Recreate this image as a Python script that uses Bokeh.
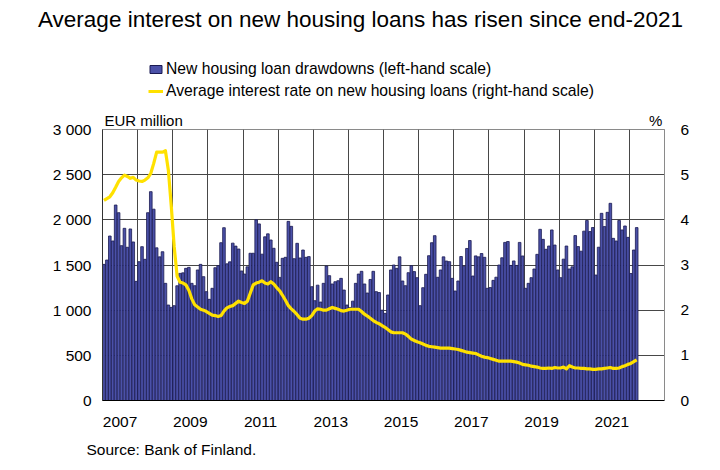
from bokeh.plotting import figure
from bokeh.layouts import column
from bokeh.models import (ColumnDataSource, Range1d, LinearAxis, FixedTicker,
                          Legend, LegendItem)
from bokeh.core.properties import value
from bokeh.embed import file_html
from bokeh.resources import INLINE

# ---------------- data (monthly, Jan 2007 - Mar 2022) ----------------
years = list(range(2007, 2023))

drawdowns_2007 = [1507, 1555, 1821, 1766, 2164, 2079, 1714, 1906, 1696, 1899, 1755, 1319]
drawdowns_2008 = [1537, 1703, 1563, 2079, 2312, 2118, 1690, 1590, 1647, 1297, 1057, 1031]
drawdowns_2009 = [1050, 1270, 1407, 1413, 1463, 1474, 1297, 1271, 1445, 1507, 1371, 1205]
drawdowns_2010 = [1120, 1242, 1470, 1493, 1747, 1913, 1513, 1535, 1742, 1709, 1677, 1434]
drawdowns_2011 = [1400, 1480, 1630, 1630, 2000, 1955, 1620, 1812, 1845, 1777, 1685, 1530]
drawdowns_2012 = [1363, 1574, 1585, 1983, 1928, 1570, 1740, 1578, 1666, 1585, 1593, 1260]
drawdowns_2013 = [1105, 1277, 1090, 1297, 1489, 1382, 1290, 1315, 1326, 1352, 1223, 1057]
drawdowns_2014 = [1030, 1100, 1297, 1400, 1430, 1290, 1190, 1340, 1430, 1205, 1195, 1000]
drawdowns_2015 = [965, 1168, 1445, 1500, 1463, 1590, 1323, 1271, 1415, 1493, 1427, 1360]
drawdowns_2016 = [1050, 1249, 1397, 1603, 1747, 1825, 1364, 1445, 1590, 1544, 1537, 1352]
drawdowns_2017 = [1212, 1323, 1594, 1487, 1683, 1771, 1378, 1601, 1590, 1627, 1585, 1242]
drawdowns_2018 = [1250, 1330, 1365, 1500, 1580, 1750, 1760, 1495, 1545, 1495, 1750, 1600]
drawdowns_2019 = [1242, 1297, 1360, 1456, 1618, 1895, 1784, 1674, 1710, 1888, 1721, 1445]
drawdowns_2020 = [1360, 1565, 1710, 1456, 1480, 1826, 1704, 1653, 1875, 1993, 1870, 1915]
drawdowns_2021 = [1389, 1697, 2072, 1925, 2083, 2183, 1795, 1766, 1993, 1888, 1932, 1806]
drawdowns_2022 = [1406, 1666, 1914]

rate_2007 = [4.43, 4.47, 4.51, 4.60, 4.72, 4.85, 4.93, 4.99, 4.96, 4.92, 4.94, 4.88]
rate_2008 = [4.86, 4.85, 4.88, 4.93, 5.03, 5.25, 5.50, 5.50, 5.50, 5.53, 5.10, 4.30]
rate_2009 = [3.40, 2.75, 2.62, 2.60, 2.56, 2.44, 2.25, 2.12, 2.07, 2.02, 2.00, 1.97]
rate_2010 = [1.93, 1.89, 1.88, 1.86, 1.88, 1.98, 2.05, 2.08, 2.10, 2.15, 2.20, 2.17]
rate_2011 = [2.15, 2.20, 2.38, 2.56, 2.60, 2.62, 2.65, 2.60, 2.58, 2.63, 2.58, 2.50]
rate_2012 = [2.43, 2.33, 2.22, 2.10, 2.03, 1.97, 1.90, 1.82, 1.80, 1.80, 1.82, 1.88]
rate_2013 = [1.98, 2.03, 2.02, 2.00, 2.00, 2.03, 2.06, 2.04, 2.02, 1.99, 1.98, 2.00]
rate_2014 = [2.02, 2.02, 2.02, 2.02, 1.97, 1.91, 1.87, 1.82, 1.77, 1.73, 1.70, 1.66]
rate_2015 = [1.62, 1.57, 1.52, 1.50, 1.50, 1.50, 1.50, 1.47, 1.42, 1.36, 1.33, 1.30]
rate_2016 = [1.28, 1.25, 1.22, 1.20, 1.19, 1.18, 1.17, 1.16, 1.16, 1.16, 1.16, 1.15]
rate_2017 = [1.14, 1.13, 1.11, 1.09, 1.07, 1.06, 1.05, 1.04, 1.01, 0.98, 0.96, 0.95]
rate_2018 = [0.93, 0.91, 0.89, 0.87, 0.87, 0.87, 0.87, 0.87, 0.86, 0.85, 0.83, 0.80]
rate_2019 = [0.79, 0.78, 0.76, 0.75, 0.74, 0.72, 0.71, 0.71, 0.72, 0.71, 0.73, 0.72]
rate_2020 = [0.72, 0.74, 0.70, 0.77, 0.74, 0.72, 0.72, 0.71, 0.71, 0.70, 0.70, 0.69]
rate_2021 = [0.69, 0.70, 0.70, 0.71, 0.72, 0.73, 0.71, 0.71, 0.72, 0.75, 0.77, 0.80]
rate_2022 = [0.82, 0.86, 0.90]

left_ticks = [0, 500, 1000, 1500, 2000, 2500, 3000]
left_labels = ["0", "500", "1 000", "1 500", "2 000", "2 500", "3 000"]
right_ticks = [0, 1, 2, 3, 4, 5, 6]
year_labels = ["2007", "2009", "2011", "2013", "2015", "2017", "2019", "2021"]

title_text = "Average interest on new housing loans has risen since end-2021"
legend_bar = "New housing loan drawdowns (left-hand scale)"
legend_line = "Average interest rate on new housing loans (right-hand scale)"
left_unit = "EUR million"
right_unit = "%"
source_text = "Source: Bank of Finland."

# ---------------- assemble ----------------
drawdowns = (drawdowns_2007 + drawdowns_2008 + drawdowns_2009 + drawdowns_2010 +
             drawdowns_2011 + drawdowns_2012 + drawdowns_2013 + drawdowns_2014 +
             drawdowns_2015 + drawdowns_2016 + drawdowns_2017 + drawdowns_2018 +
             drawdowns_2019 + drawdowns_2020 + drawdowns_2021 + drawdowns_2022)
rates = (rate_2007 + rate_2008 + rate_2009 + rate_2010 + rate_2011 + rate_2012 +
         rate_2013 + rate_2014 + rate_2015 + rate_2016 + rate_2017 + rate_2018 +
         rate_2019 + rate_2020 + rate_2021 + rate_2022)
xs = [2007 + (i + 0.5) / 12.0 for i in range(len(drawdowns))]
src = ColumnDataSource(dict(x=xs, loans=drawdowns, rate=rates))

FONT = "Liberation Sans"
BAR_FILL = "#4b51a8"
BAR_LINE = "#1a1a52"
YELLOW = "#ffe100"
GRID = "#474747"
W = 720
HEAD_H = 104
FOOT_H = 36
MAIN_H = 470 - HEAD_H - FOOT_H
TOP_B = 129 - HEAD_H


def bare(height):
    f = figure(width=W, height=height, output_backend="svg", toolbar_location=None,
               x_range=Range1d(0, W), y_range=Range1d(height, 0),
               x_axis_type=None, y_axis_type=None, min_border=0)
    f.frame_align = False
    f.outline_line_color = None
    f.grid.visible = False
    f.background_fill_color = "white"
    f.border_fill_color = "white"
    return f


# ---------------- header: title and legend ----------------
head = bare(HEAD_H)
head.text(x=[360], y=[19], text=[title_text], text_font=value(FONT),
          text_font_size=value("22.5px"), text_align="center",
          text_baseline="middle", text_color="black")

# legend renderers: same data, header ranges are in pixels so nothing is in view
h_bar = head.vbar(x="x", top="loans", width=0.9 / 12, source=src,
                  fill_color=BAR_FILL, line_color=BAR_LINE, line_width=1)
h_line = head.line(x="x", y="rate", source=src, line_color=YELLOW, line_width=3)
leg = Legend(items=[LegendItem(label=legend_bar, renderers=[h_bar]),
                    LegendItem(label=legend_line, renderers=[h_line])],
             location=(148, HEAD_H - 100), orientation="vertical",
             glyph_width=15, glyph_height=10, label_standoff=3,
             label_text_font=FONT, label_text_font_size="15.7px",
             label_text_color="black", label_height=18, spacing=4,
             padding=0, margin=0, border_line_color=None,
             background_fill_alpha=0.0)
head.add_layout(leg)

# ---------------- main chart ----------------
p = figure(width=W, height=MAIN_H, output_backend="svg", toolbar_location=None,
           x_range=Range1d(2007, 2023), y_range=Range1d(0, 3000),
           min_border_left=102, min_border_right=56, min_border_top=TOP_B,
           min_border_bottom=MAIN_H - TOP_B - 271)
p.frame_align = False
p.extra_y_ranges = {"rate": Range1d(0, 6)}
p.background_fill_color = "white"
p.border_fill_color = "white"
p.outline_line_color = "#8a8a8a"
p.outline_line_width = 1

p.vbar(x="x", top="loans", width=0.9 / 12, bottom=0, source=src,
       fill_color=BAR_FILL, line_color=BAR_LINE, line_width=0.8)
p.line(x="x", y="rate", source=src, y_range_name="rate",
       line_color=YELLOW, line_width=3.2, line_join="round")

p.xgrid.ticker = FixedTicker(ticks=years[1:])
p.ygrid.ticker = FixedTicker(ticks=left_ticks[1:-1])
for g in (p.xgrid, p.ygrid):
    g.grid_line_color = GRID
    g.grid_line_width = 1


def style_axis(ax, standoff, size="15.5px"):
    ax.major_tick_line_color = None
    ax.minor_tick_line_color = None
    ax.major_tick_out = 0
    ax.major_tick_in = 0
    ax.major_label_standoff = standoff
    ax.major_label_text_font = FONT
    ax.major_label_text_font_size = size
    ax.major_label_text_color = "black"


xa = p.xaxis[0]
xa.ticker = FixedTicker(ticks=[int(s) + 0.5 for s in year_labels])
xa.major_label_overrides = {int(s) + 0.5: s for s in year_labels}
style_axis(xa, 16)
xa.axis_line_color = "black"

ya = p.yaxis[0]
ya.ticker = FixedTicker(ticks=left_ticks)
ya.major_label_overrides = {t: l for t, l in zip(left_ticks, left_labels)}
style_axis(ya, 11)
ya.axis_line_color = "#333333"

ra = LinearAxis(y_range_name="rate", ticker=FixedTicker(ticks=right_ticks))
style_axis(ra, 16)
ra.axis_line_color = "#8a8a8a"
p.add_layout(ra, "right")

# unit captions just above the frame
unit_pos = [2008.17, 2022.75]
ua = LinearAxis(ticker=FixedTicker(ticks=unit_pos),
                major_label_overrides={unit_pos[0]: left_unit, unit_pos[1]: right_unit})
style_axis(ua, 1, "15px")
ua.axis_line_color = None
p.add_layout(ua, "above")

# ---------------- footer: source ----------------
foot = bare(FOOT_H)
foot.text(x=[86], y=[15], text=[source_text], text_font=value(FONT),
          text_font_size=value("15.5px"), text_align="left",
          text_baseline="middle", text_color="black")

layout = column(head, p, foot, spacing=0)
open("out.html", "w").write(file_html(layout, INLINE))
